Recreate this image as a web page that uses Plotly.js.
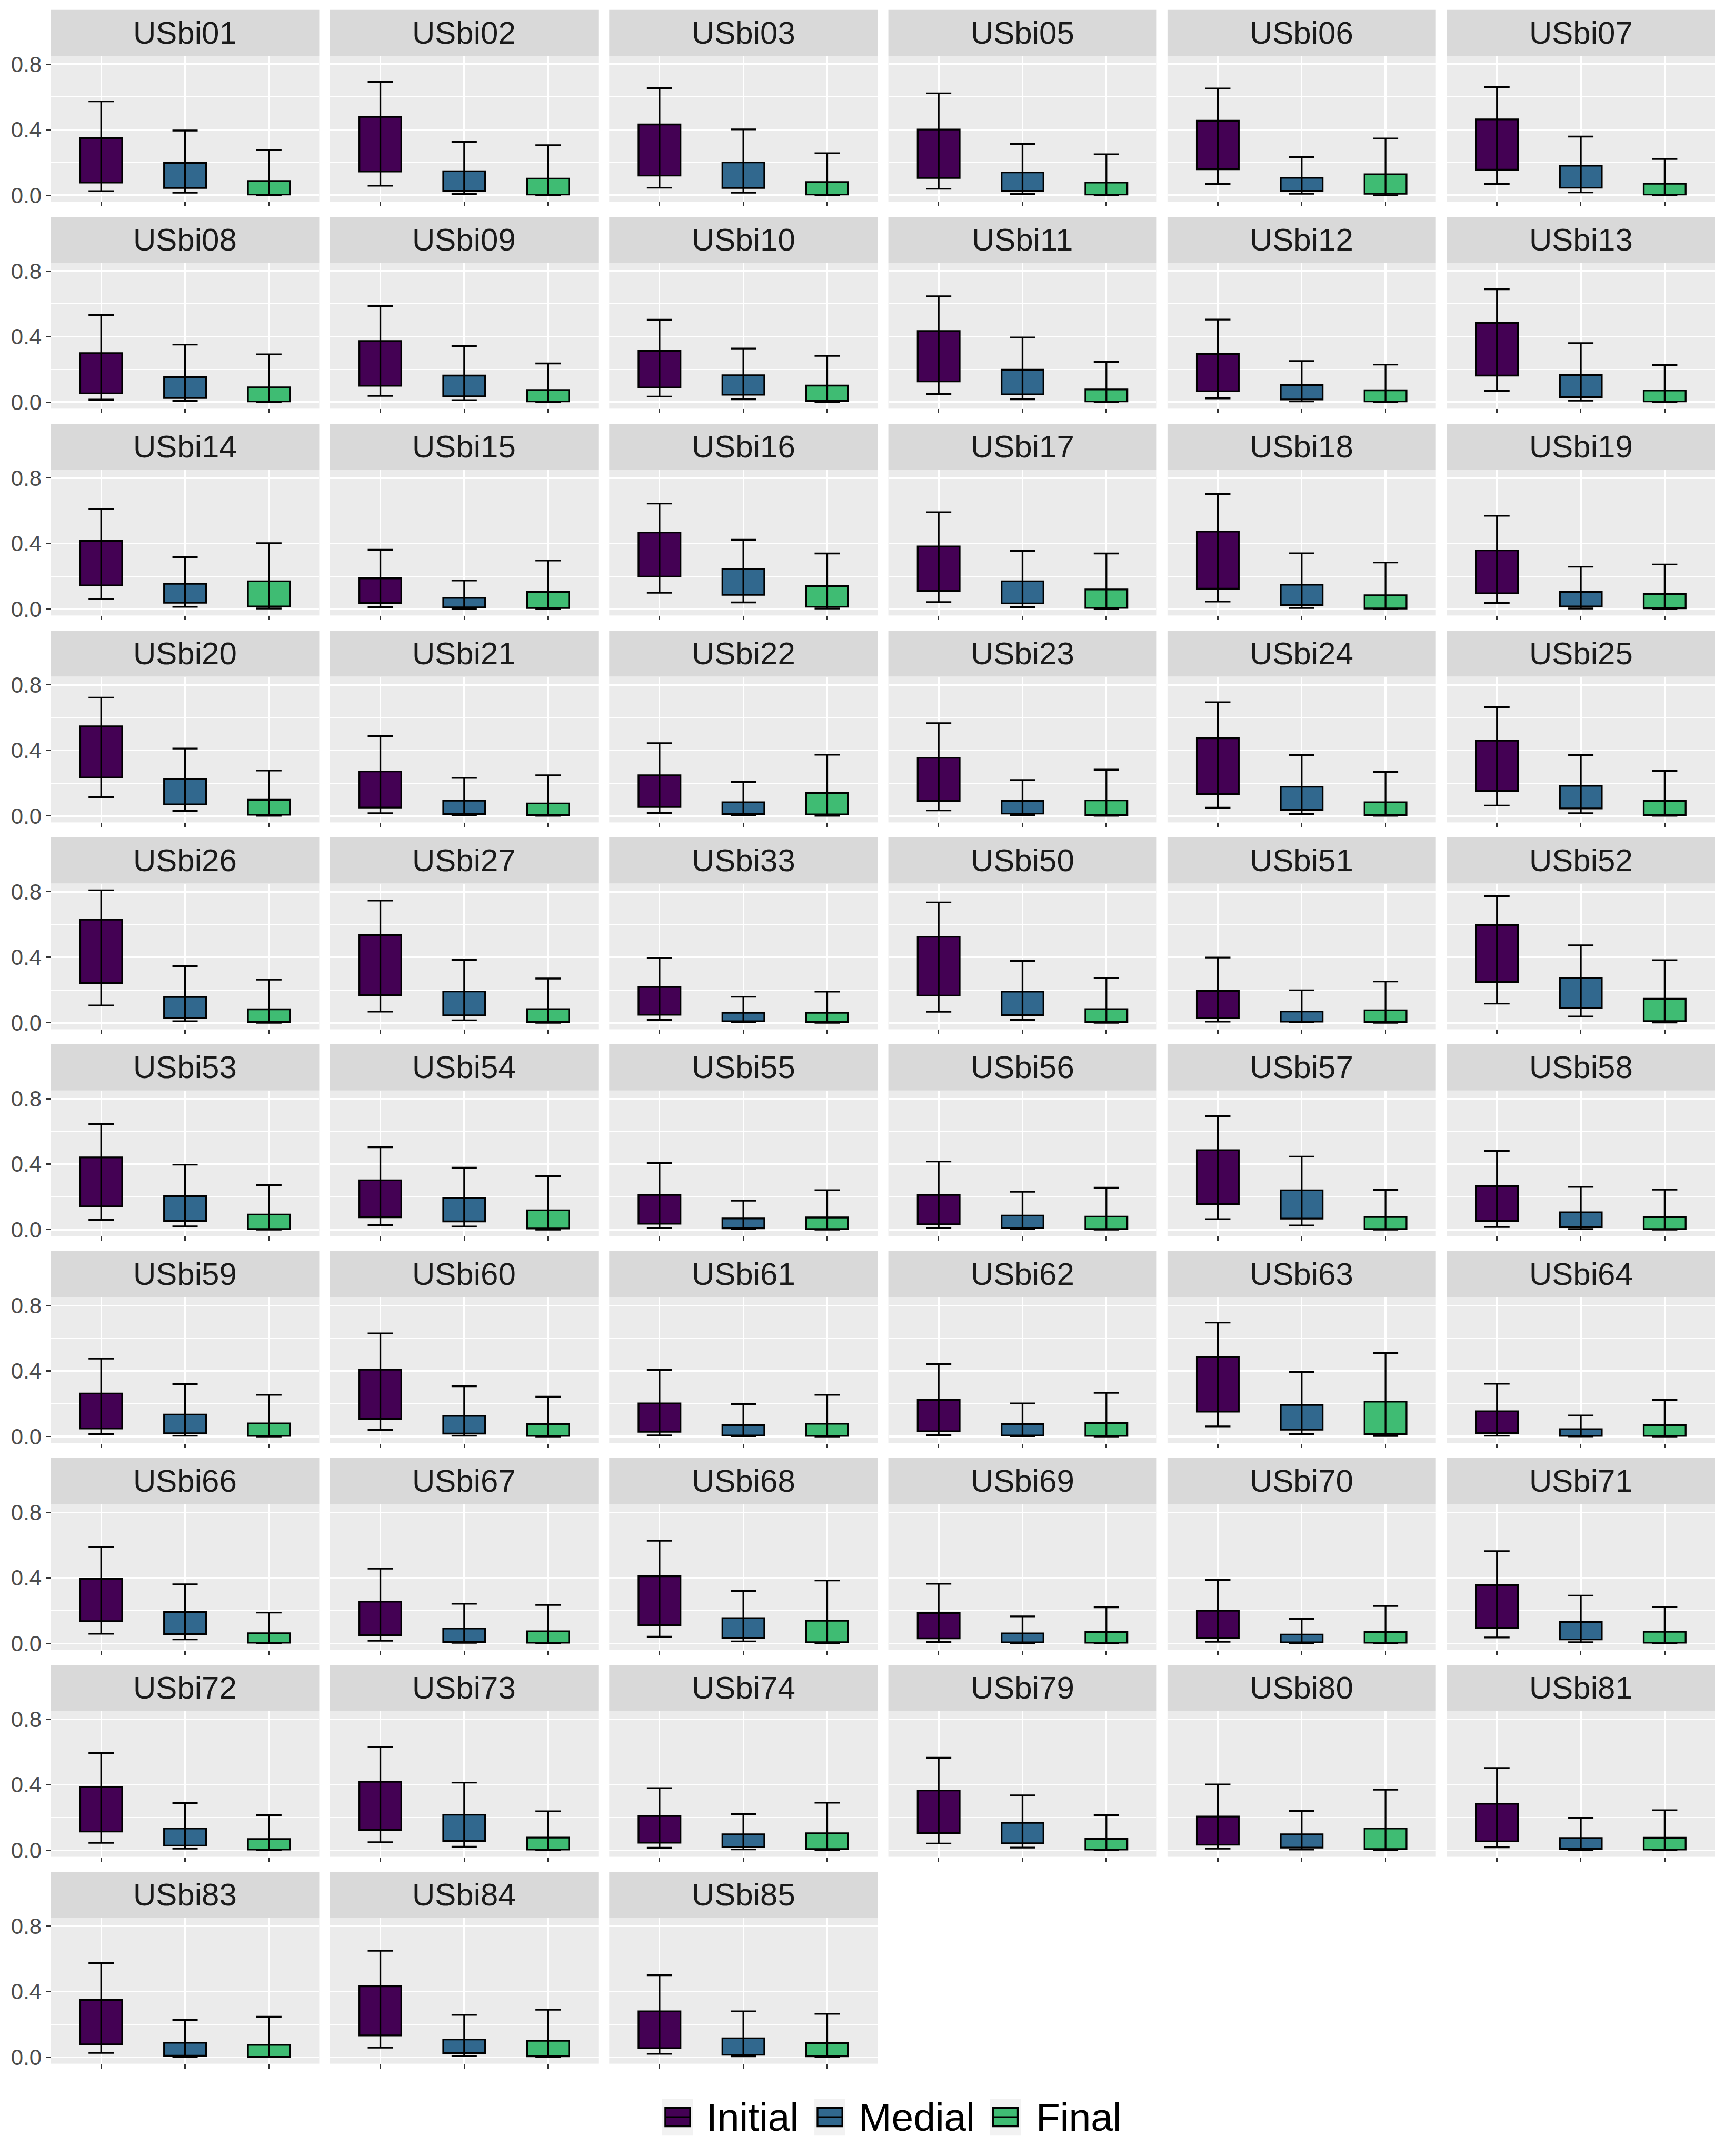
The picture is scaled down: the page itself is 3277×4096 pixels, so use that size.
<!DOCTYPE html>
<html>
<head>
<meta charset="utf-8">
<script src="https://cdn.plot.ly/plotly-3.0.1.min.js"></script>
<style>html,body{margin:0;padding:0;background:#ffffff;}</style>
</head>
<body>
<div id="chart" style="width:3277px;height:4096px;"></div>
<script>
// ---------------- data ----------------
const sites = [
  'USbi01','USbi02','USbi03','USbi05','USbi06','USbi07',
  'USbi08','USbi09','USbi10','USbi11','USbi12','USbi13',
  'USbi14','USbi15','USbi16','USbi17','USbi18','USbi19',
  'USbi20','USbi21','USbi22','USbi23','USbi24','USbi25',
  'USbi26','USbi27','USbi33','USbi50','USbi51','USbi52',
  'USbi53','USbi54','USbi55','USbi56','USbi57','USbi58',
  'USbi59','USbi60','USbi61','USbi62','USbi63','USbi64',
  'USbi66','USbi67','USbi68','USbi69','USbi70','USbi71',
  'USbi72','USbi73','USbi74','USbi79','USbi80','USbi81',
  'USbi83','USbi84','USbi85'
];
const stages = ['Initial', 'Medial', 'Final'];
const yTickVals = [0, 0.4, 0.8];

// Initial
const initialLow  = [0.025,0.058,0.046,0.039,0.069,0.068, 0.015,0.038,0.034,0.049,0.023,0.069, 0.062,0.011,0.099,0.042,0.045,0.036, 0.114,0.016,0.018,0.033,0.050,0.063, 0.106,0.068,0.017,0.067,0.007,0.117, 0.059,0.027,0.011,0.009,0.064,0.016, 0.014,0.040,0.007,0.008,0.062,0.005, 0.059,0.016,0.041,0.009,0.010,0.036, 0.045,0.049,0.015,0.041,0.010,0.018, 0.026,0.058,0.020];
const initialQ1   = [0.077,0.145,0.120,0.105,0.158,0.156, 0.053,0.100,0.089,0.126,0.066,0.162, 0.144,0.036,0.198,0.110,0.124,0.096, 0.234,0.051,0.054,0.091,0.133,0.152, 0.242,0.169,0.049,0.166,0.028,0.249, 0.142,0.075,0.036,0.033,0.156,0.053, 0.049,0.108,0.029,0.032,0.152,0.021, 0.136,0.051,0.112,0.031,0.034,0.095, 0.114,0.124,0.046,0.105,0.034,0.054, 0.078,0.133,0.055];
const initialQ3   = [0.349,0.478,0.432,0.401,0.455,0.463, 0.299,0.373,0.313,0.434,0.293,0.484, 0.417,0.187,0.467,0.382,0.473,0.358, 0.547,0.271,0.248,0.355,0.474,0.459, 0.630,0.536,0.218,0.525,0.195,0.597, 0.441,0.301,0.212,0.212,0.485,0.266, 0.263,0.408,0.202,0.224,0.486,0.154, 0.395,0.255,0.410,0.186,0.199,0.355, 0.386,0.418,0.209,0.365,0.206,0.284, 0.349,0.433,0.280];
const initialHigh = [0.573,0.692,0.654,0.622,0.652,0.660, 0.531,0.586,0.503,0.646,0.504,0.689, 0.612,0.362,0.644,0.591,0.703,0.569, 0.722,0.487,0.444,0.566,0.694,0.664, 0.809,0.746,0.394,0.735,0.398,0.773, 0.644,0.503,0.407,0.416,0.693,0.480, 0.476,0.630,0.407,0.443,0.696,0.322, 0.588,0.457,0.627,0.364,0.388,0.563, 0.594,0.630,0.379,0.565,0.402,0.502, 0.575,0.650,0.500];

// Medial
const medialLow  = [0.015,0.008,0.015,0.008,0.009,0.017, 0.007,0.012,0.017,0.017,0.004,0.009, 0.013,0.002,0.040,0.011,0.006,0.003, 0.030,0.003,0.003,0.004,0.011,0.016, 0.009,0.015,0.003,0.017,0.002,0.038, 0.020,0.019,0.002,0.003,0.025,0.004, 0.005,0.005,0.002,0.002,0.014,0.001, 0.024,0.003,0.012,0.002,0.002,0.007, 0.010,0.022,0.005,0.016,0.004,0.002, 0.001,0.008,0.005];
const medialQ1   = [0.044,0.026,0.044,0.026,0.026,0.046, 0.025,0.035,0.045,0.047,0.016,0.030, 0.038,0.010,0.086,0.034,0.024,0.015, 0.070,0.012,0.011,0.014,0.037,0.045, 0.030,0.045,0.009,0.047,0.007,0.089, 0.054,0.050,0.008,0.011,0.067,0.015, 0.020,0.018,0.006,0.006,0.042,0.004, 0.056,0.009,0.034,0.006,0.006,0.024, 0.028,0.057,0.019,0.043,0.016,0.009, 0.009,0.025,0.015];
const medialQ3   = [0.198,0.146,0.200,0.139,0.106,0.180, 0.152,0.162,0.164,0.198,0.104,0.166, 0.154,0.068,0.244,0.169,0.148,0.104, 0.226,0.093,0.083,0.092,0.178,0.184, 0.157,0.191,0.061,0.190,0.069,0.272, 0.205,0.192,0.068,0.086,0.240,0.106, 0.134,0.126,0.069,0.075,0.193,0.045, 0.191,0.091,0.154,0.061,0.054,0.130, 0.133,0.217,0.097,0.167,0.097,0.075, 0.088,0.108,0.115];
const medialHigh = [0.395,0.325,0.402,0.313,0.233,0.358, 0.351,0.342,0.327,0.395,0.251,0.360, 0.317,0.174,0.423,0.355,0.340,0.258, 0.411,0.232,0.208,0.219,0.372,0.372, 0.345,0.385,0.159,0.378,0.198,0.473, 0.397,0.378,0.177,0.231,0.446,0.261, 0.320,0.307,0.198,0.202,0.394,0.128, 0.361,0.242,0.320,0.165,0.150,0.292, 0.289,0.413,0.220,0.335,0.240,0.198, 0.227,0.258,0.280];

// Final
const finalLow  = [0,0,0,0,0,0, 0,0,0,0,0,0, 0.003,0,0.003,0,0,0, 0,0,0,0,0,0, 0,0,0,0,0,0.001, 0,0,0,0,0,0, 0,0,0,0,0.003,0, 0,0,0,0,0,0, 0,0,0,0,0,0, 0,0,0];
const finalQ1   = [0.004,0.004,0.004,0.004,0.009,0.004, 0.004,0.004,0.007,0.004,0.004,0.004, 0.015,0.006,0.014,0.007,0.003,0.004, 0.007,0.004,0.009,0.004,0.004,0.004, 0.004,0.004,0.004,0.004,0.004,0.010, 0.004,0.007,0.004,0.004,0.004,0.004, 0.004,0.004,0.004,0.004,0.015,0.004, 0.004,0.004,0.007,0.004,0.004,0.004, 0.004,0.004,0.007,0.004,0.007,0.004, 0.002,0.005,0.005];
const finalQ3   = [0.087,0.101,0.080,0.077,0.128,0.070, 0.090,0.074,0.101,0.077,0.072,0.071, 0.169,0.104,0.139,0.119,0.084,0.092, 0.098,0.076,0.140,0.094,0.083,0.092, 0.082,0.083,0.061,0.083,0.076,0.147, 0.092,0.118,0.074,0.079,0.077,0.076, 0.080,0.076,0.078,0.082,0.213,0.069, 0.062,0.074,0.138,0.069,0.070,0.071, 0.068,0.077,0.104,0.070,0.133,0.076, 0.075,0.100,0.085];
const finalHigh = [0.275,0.305,0.256,0.250,0.346,0.221, 0.292,0.236,0.282,0.245,0.229,0.226, 0.402,0.296,0.339,0.339,0.284,0.272, 0.277,0.248,0.373,0.282,0.268,0.275, 0.263,0.270,0.190,0.272,0.252,0.382, 0.272,0.326,0.241,0.256,0.243,0.244, 0.255,0.243,0.255,0.267,0.509,0.223, 0.188,0.235,0.384,0.220,0.228,0.223, 0.215,0.238,0.290,0.215,0.370,0.244, 0.247,0.290,0.265];

// ---------------- styling ----------------
const stageColors = ['#440154', '#31688E', '#3FBC73'];
const FONT = 'Liberation Sans, Arial, Helvetica, sans-serif';
const W = 3277, H = 4096, S = 0.819;     // S: scale of reference pixels to this page
const NCOL = 6;

const traces = [];
const shapes = [];
const annotations = [];
const layout = {
  width: W, height: H,
  margin: {l: 0, r: 0, t: 0, b: 0},
  paper_bgcolor: '#FFFFFF',
  plot_bgcolor: '#EBEBEB',
  showlegend: false,
  barmode: 'overlay',
  font: {family: FONT, color: '#4D4D4D'}
};

sites.forEach((name, i) => {
  const r = Math.floor(i / NCOL), c = i % NCOL;
  const k = i + 1;
  const xa = k === 1 ? 'x' : 'x' + k;
  const ya = k === 1 ? 'y' : 'y' + k;
  const lows  = [initialLow[i],  medialLow[i],  finalLow[i]];
  const q1s   = [initialQ1[i],   medialQ1[i],   finalQ1[i]];
  const q3s   = [initialQ3[i],   medialQ3[i],   finalQ3[i]];
  const highs = [initialHigh[i], medialHigh[i], finalHigh[i]];

  traces.push({
    type: 'bar',
    x: stages,
    base: q1s,
    y: q3s.map((v, j) => v - q1s[j]),
    width: 0.5,
    xaxis: xa, yaxis: ya,
    marker: {color: stageColors, line: {color: '#000000', width: 3.3}},
    error_y: {
      type: 'data', symmetric: false,
      array: highs.map((v, j) => v - q3s[j]),
      arrayminus: q3s.map((v, j) => v - lows[j]),
      color: '#000000', thickness: 3.3, width: 24
    },
    hoverinfo: 'skip',
    showlegend: false
  });

  const left = (118 + 647.5 * c) * S;
  const right = left + 622.5 * S;
  const stripTop = (23 + 479.9 * r) * S;
  const top = (130 + 479.9 * r) * S;
  const bottom = (468 + 479.9 * r) * S;

  layout['xaxis' + (k === 1 ? '' : k)] = {
    domain: [left / W, right / W],
    anchor: ya,
    type: 'category',
    categoryorder: 'array', categoryarray: stages,
    range: [-0.6, 2.6],
    showticklabels: false,
    ticks: 'outside', ticklen: 8, tickwidth: 2.6, tickcolor: '#333333',
    showgrid: true, gridcolor: '#FFFFFF', gridwidth: 3.2,
    zeroline: false, showline: false, fixedrange: true
  };
  layout['yaxis' + (k === 1 ? '' : k)] = {
    domain: [1 - bottom / H, 1 - top / H],
    anchor: xa,
    range: [-0.04, 0.85],
    tickmode: 'array', tickvals: yTickVals,
    tickformat: '.1f',
    showticklabels: c === 0,
    ticks: c === 0 ? 'outside' : '',
    ticklen: 8, tickwidth: 2.6, tickcolor: '#333333',
    tickfont: {family: FONT, size: 42, color: '#4D4D4D'},
    showgrid: true, gridcolor: '#FFFFFF', gridwidth: 3.2,
    minor: {tickmode: 'array', tickvals: [0.2, 0.6], showgrid: true, gridcolor: '#FFFFFF', gridwidth: 1.6, ticks: ''},
    zeroline: false, showline: false, fixedrange: true
  };

  shapes.push({
    type: 'rect', xref: 'paper', yref: 'paper',
    x0: left / W, x1: right / W, y0: 1 - top / H, y1: 1 - stripTop / H,
    fillcolor: '#D9D9D9', line: {width: 0}, layer: 'below'
  });
  annotations.push({
    text: name, xref: 'paper', yref: 'paper',
    x: (left + right) / 2 / W, y: 1 - ((stripTop + top) / 2) / H,
    xanchor: 'center', yanchor: 'middle', showarrow: false,
    font: {family: FONT, size: 60, color: '#1A1A1A'}
  });
});

// ---------------- legend (drawn manually to match ggplot keys) ----------------
const legendKeyX = [1536, 1889, 2296];   // reference px
const legendTextX = [1636, 1989, 2400];
const legendCY = 4911, keyW = 72, keyH = 86;
stages.forEach((st, j) => {
  const x0 = legendKeyX[j] * S, x1 = (legendKeyX[j] + keyW) * S;
  const y0 = (legendCY - keyH / 2) * S, y1 = (legendCY + keyH / 2) * S;
  shapes.push({type: 'rect', xref: 'paper', yref: 'paper',
    x0: x0 / W, x1: x1 / W, y0: 1 - y1 / H, y1: 1 - y0 / H,
    fillcolor: '#F2F2F2', line: {width: 0}});
  const bx0 = x0 + 0.1 * (x1 - x0), bx1 = x0 + 0.9 * (x1 - x0);
  const by0 = y0 + 0.25 * (y1 - y0), by1 = y0 + 0.75 * (y1 - y0);
  shapes.push({type: 'rect', xref: 'paper', yref: 'paper',
    x0: bx0 / W, x1: bx1 / W, y0: 1 - by1 / H, y1: 1 - by0 / H,
    fillcolor: stageColors[j], line: {color: '#000000', width: 3.3}});
  shapes.push({type: 'line', xref: 'paper', yref: 'paper',
    x0: bx0 / W, x1: bx1 / W, y0: 1 - (legendCY * S) / H, y1: 1 - (legendCY * S) / H,
    line: {color: '#000000', width: 3.3}});
  annotations.push({text: st, xref: 'paper', yref: 'paper',
    x: legendTextX[j] * S / W, y: 1 - (legendCY * S) / H,
    xanchor: 'left', yanchor: 'middle', showarrow: false,
    font: {family: FONT, size: 75, color: '#000000'}});
});

layout.shapes = shapes;
layout.annotations = annotations;

Plotly.newPlot('chart', traces, layout, {staticPlot: true, displayModeBar: false});
</script>
</body>
</html>
